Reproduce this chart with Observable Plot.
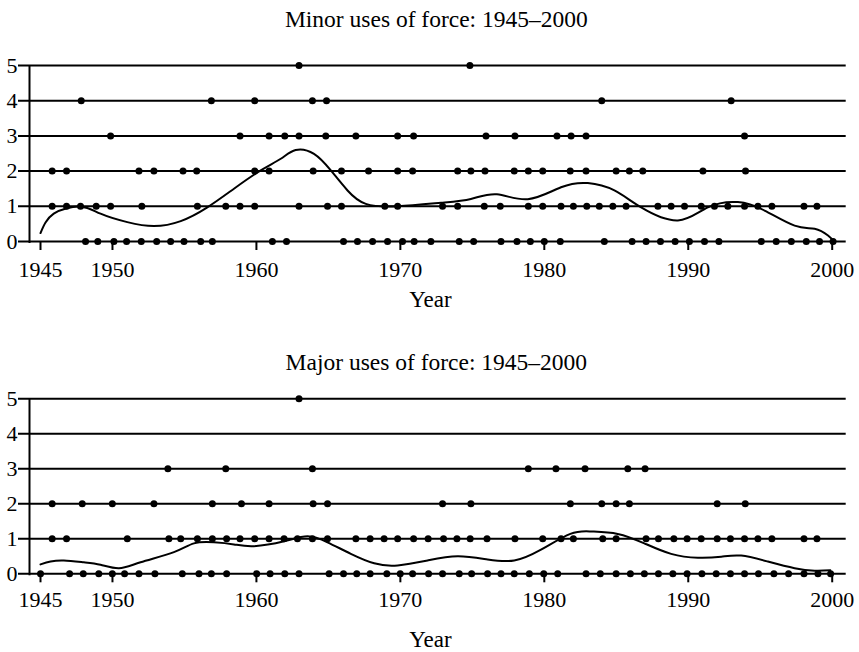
<!DOCTYPE html>
<html>
<head>
<meta charset="utf-8">
<script src="https://cdn.jsdelivr.net/npm/d3@7"></script>
<script src="https://cdn.jsdelivr.net/npm/@observablehq/plot@0.6"></script>
<style>
  html, body { margin: 0; padding: 0; background: white; }
  svg { display: block; }
</style>
</head>
<body>
<div id="chart"></div>
<script>
// ---- Data (years of each plotted observation, grouped by count) ----
const xTicks = [1945, 1950, 1960, 1970, 1980, 1990, 2000];
const yTicks = [0, 1, 2, 3, 4, 5];

const minorTitle = "Minor uses of force: 1945–2000";
const majorTitle = "Major uses of force: 1945–2000";
const xLabel = "Year";

const minor0 = [1948.13, 1948.98, 1950.10, 1950.98, 1952.00, 1953.07, 1954.04, 1954.97, 1956.13, 1956.94, 1961.11, 1962.09, 1966.05, 1967.02, 1968.07, 1969.11, 1970.15, 1970.96, 1972.12, 1974.09, 1975.09, 1976.99, 1978.10, 1979.03, 1980.00, 1981.11, 1984.17, 1986.10, 1987.07, 1988.07, 1989.09, 1990.08, 1991.13, 1992.13, 1995.07, 1996.11, 1997.16, 1998.20, 1999.12, 2000.06];
const minor1 = [1945.81, 1946.81, 1947.78, 1948.87, 1949.87, 1952.04, 1955.90, 1957.87, 1958.86, 1959.88, 1962.96, 1964.94, 1965.91, 1968.92, 1969.81, 1972.93, 1973.98, 1975.83, 1976.94, 1978.89, 1979.89, 1981.16, 1982.02, 1982.95, 1983.82, 1984.76, 1985.68, 1987.89, 1988.81, 1989.74, 1990.90, 1991.82, 1992.75, 1993.91, 1994.84, 1995.81, 1998.04, 1998.94];
const minor2 = [1945.81, 1946.81, 1951.84, 1952.88, 1954.90, 1955.85, 1959.88, 1960.88, 1963.94, 1965.91, 1967.79, 1969.81, 1970.85, 1973.98, 1974.90, 1975.88, 1977.91, 1978.89, 1979.89, 1981.80, 1982.90, 1984.99, 1985.91, 1986.84, 1991.02, 1993.98];
const minor3 = [1949.87, 1958.86, 1960.88, 1961.97, 1962.96, 1964.82, 1966.91, 1969.81, 1970.92, 1975.95, 1977.96, 1980.88, 1981.86, 1982.90, 1993.91];
const minor4 = [1947.83, 1956.87, 1959.88, 1963.89, 1964.87, 1983.99, 1992.98];
const minor5 = [1962.96, 1974.83];

const major0 = [1945.00, 1947.02, 1947.97, 1949.05, 1949.99, 1950.84, 1951.84, 1952.95, 1954.85, 1956.01, 1956.87, 1957.93, 1960.02, 1960.95, 1961.97, 1962.96, 1965.05, 1966.05, 1966.97, 1967.90, 1969.06, 1969.99, 1970.85, 1971.96, 1972.93, 1974.09, 1974.95, 1976.06, 1976.99, 1977.91, 1978.96, 1979.96, 1980.93, 1982.90, 1983.89, 1984.99, 1985.98, 1986.95, 1987.93, 1988.93, 1989.92, 1990.95, 1991.94, 1992.93, 1993.91, 1994.88, 1995.95, 1996.97, 1998.04, 1999.01, 1999.89];
const major1 = [1945.81, 1946.81, 1951.03, 1953.92, 1954.74, 1955.90, 1956.94, 1957.93, 1958.86, 1959.88, 1960.88, 1961.92, 1962.85, 1963.89, 1964.94, 1966.91, 1967.90, 1968.87, 1969.81, 1970.92, 1971.93, 1973.00, 1973.93, 1974.85, 1976.02, 1977.96, 1979.89, 1981.16, 1982.02, 1984.06, 1984.99, 1987.07, 1987.93, 1989.00, 1989.92, 1990.90, 1992.01, 1992.93, 1993.91, 1994.84, 1995.81, 1998.04, 1998.94];
const major2 = [1945.81, 1947.90, 1949.99, 1952.88, 1956.94, 1958.96, 1960.88, 1963.94, 1964.94, 1972.93, 1974.90, 1981.81, 1983.99, 1984.99, 1985.91, 1992.01, 1993.96];
const major3 = [1953.85, 1957.87, 1963.89, 1978.89, 1980.81, 1982.83, 1985.80, 1987.00];
const major4 = [];
const major5 = [1962.96];

// Smoothed trend
const minorTrendYears  = [1945.00, 1945.92, 1947.78, 1949.17, 1951.03, 1952.88, 1954.74, 1956.59, 1958.44, 1960.30, 1961.69, 1962.73, 1964.00, 1965.17, 1966.33, 1967.60, 1969.81, 1972.82, 1974.90, 1976.71, 1978.85, 1981.16, 1983.02, 1984.87, 1986.73, 1989.28, 1991.36, 1993.45, 1995.30, 1997.39, 1998.78, 1999.71, 2000.12];
const minorTrendValues = [0.24, 0.79, 0.99, 0.79, 0.55, 0.44, 0.58, 0.97, 1.50, 2.02, 2.35, 2.60, 2.49, 2.02, 1.45, 1.07, 1.00, 1.10, 1.21, 1.34, 1.20, 1.54, 1.66, 1.45, 0.97, 0.60, 0.97, 1.12, 0.88, 0.45, 0.36, 0.17, 0.00];
const majorTrendYears  = [1945.00, 1945.70, 1946.62, 1948.01, 1949.17, 1950.45, 1951.95, 1954.27, 1955.66, 1957.05, 1958.44, 1959.83, 1961.92, 1963.55, 1964.94, 1966.56, 1968.18, 1969.81, 1971.89, 1973.98, 1976.06, 1977.91, 1979.77, 1981.81, 1983.25, 1985.10, 1986.95, 1988.81, 1990.67, 1992.29, 1993.68, 1995.53, 1997.39, 1998.78, 1999.87];
const majorTrendValues = [0.27, 0.35, 0.38, 0.33, 0.26, 0.16, 0.33, 0.62, 0.87, 0.90, 0.84, 0.79, 0.93, 1.07, 0.90, 0.57, 0.30, 0.24, 0.38, 0.50, 0.41, 0.38, 0.69, 1.14, 1.21, 1.14, 0.87, 0.57, 0.46, 0.49, 0.52, 0.35, 0.16, 0.09, 0.10];

// ---- Build tables ----
function toDots(levels) {
  return levels.flatMap((arr, k) => arr.map(year => ({year, count: k})));
}
function toTrend(years, values) {
  return years.map((year, i) => ({year, value: values[i]}));
}

const FONT = "'Liberation Serif', 'Times New Roman', Times, serif";

function panel(o) {
  return Plot.plot({
    width: 859,
    height: 326,
    marginTop: o.marginTop,
    marginBottom: o.marginBottom,
    marginLeft: 40,
    marginRight: 27.3,
    style: {fontFamily: FONT, fontSize: "22px", color: "black", background: "white", overflow: "visible"},
    x: {domain: [1945, 2000]},
    y: {domain: [0, 5]},
    marks: [
      Plot.ruleY(yTicks, {stroke: "black", strokeWidth: 2, insetLeft: -22, insetRight: -14}),
      Plot.ruleX([1945], {stroke: "black", strokeWidth: 2, dx: -11, insetBottom: -2}),
      Plot.axisX({ticks: xTicks, tickFormat: d => String(d), tickSize: 9, tickPadding: o.tickPadding, strokeWidth: 2, label: null, fontSize: 22}),
      Plot.axisY({ticks: yTicks, tickFormat: d => String(d), tickSize: 0, tickPadding: 23, label: null, fontSize: 22}),
      Plot.line(o.trend, {x: "year", y: "value", curve: "natural", stroke: "black", strokeWidth: 2}),
      Plot.dot(o.dots, {x: "year", y: "count", r: 3.5, fill: "black", stroke: "none"}),
      Plot.text([o.title], {frameAnchor: "top", dy: o.titleDy, lineAnchor: "bottom", fontSize: 23.5, fill: "black"}),
      Plot.text([xLabel], {frameAnchor: "bottom", dx: -6, dy: o.yearDy, lineAnchor: "bottom", fontSize: 23, fill: "black"})
    ]
  });
}

const minorPanel = panel({
  title: minorTitle,
  dots: toDots([minor0, minor1, minor2, minor3, minor4, minor5]),
  trend: toTrend(minorTrendYears, minorTrendValues),
  marginTop: 65, marginBottom: 85,
  titleDy: -39, yearDy: 65.7, tickPadding: 11
});
const majorPanel = panel({
  title: majorTitle,
  dots: toDots([major0, major1, major2, major3, major4, major5]),
  trend: toTrend(majorTrendYears, majorTrendValues),
  marginTop: 72.3, marginBottom: 78.7,
  titleDy: -28.8, yearDy: 72.7, tickPadding: 8.5
});
const chartEl = document.getElementById("chart");
chartEl.appendChild(minorPanel);
chartEl.appendChild(majorPanel);
</script>
</body>
</html>
